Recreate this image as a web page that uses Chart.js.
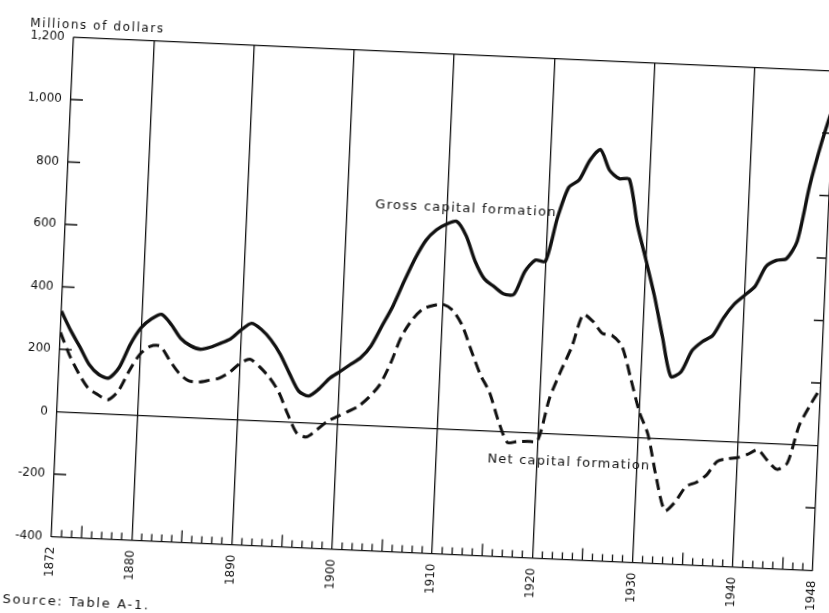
<!DOCTYPE html>
<html>
<head>
<meta charset="utf-8">
<script src="https://cdn.jsdelivr.net/npm/chart.js@4.4.1/dist/chart.umd.min.js"></script>
<style>
  html, body { margin: 0; padding: 0; background: #fff; overflow: hidden; width: 829px; height: 613px; }
  #capitalChart { position: absolute; left: -35px; top: -33px; transform: rotate(2.55deg); transform-origin: 50% 50%; }
</style>
</head>
<body>
<canvas id="capitalChart" width="900" height="680"></canvas>
<script>
// years 1872 - 1948
const years = [
  1872, 1873, 1874, 1875, 1876, 1877, 1878, 1879, 1880, 1881,
  1882, 1883, 1884, 1885, 1886, 1887, 1888, 1889, 1890, 1891,
  1892, 1893, 1894, 1895, 1896, 1897, 1898, 1899, 1900, 1901,
  1902, 1903, 1904, 1905, 1906, 1907, 1908, 1909, 1910, 1911,
  1912, 1913, 1914, 1915, 1916, 1917, 1918, 1919, 1920, 1921,
  1922, 1923, 1924, 1925, 1926, 1927, 1928, 1929, 1930, 1931,
  1932, 1933, 1934, 1935, 1936, 1937, 1938, 1939, 1940, 1941,
  1942, 1943, 1944, 1945, 1946, 1947, 1948
];

// millions of dollars
const grossCapital = [
  322, 262, 210, 155, 125, 115, 150, 225, 280, 310,
  326, 295, 252, 230, 220, 228, 242, 258, 288, 310,
  292, 260, 215, 155, 100, 86, 110, 145, 168, 192,
  215, 255, 320, 385, 465, 540, 600, 635, 655, 665,
  620, 540, 485, 462, 440, 440, 515, 553, 550, 690,
  790, 815, 880, 915, 850, 825, 825, 680, 570, 457,
  325, 200, 216, 285, 316, 337, 395, 440, 470, 500,
  565, 586, 593, 650, 830, 970, 1090
];

const netCapital = [
  254, 182, 125, 80, 60, 45, 74, 140, 195, 222,
  224, 180, 140, 117, 115, 122, 130, 150, 180, 195,
  172, 140, 95, 25, -35, -45, -20, 8, 25, 42,
  60, 90, 130, 200, 290, 345, 380, 393, 398, 380,
  333, 255, 180, 124, 35, -34, -30, -28, -25, 111,
  200, 280, 385, 365, 328, 322, 290, 190, 85, 10,
  -125, -230, -200, -150, -135, -110, -65, -55, -50, -38,
  -22, -55, -82, -60, 60, 127, 185
];

const yTicks = [-400, -200, 0, 200, 400, 600, 800, 1000, 1200];
const xLabelYears = [1872, 1880, 1890, 1900, 1910, 1920, 1930, 1940, 1948];

const ink = '#111';
const fontFamily = "'DejaVu Sans', sans-serif";

const decorPlugin = {
  id: 'decor',
  afterDraw(chart) {
    const ctx = chart.ctx;
    const xs = chart.scales.x, ys = chart.scales.y;
    const a = chart.chartArea;
    ctx.save();
    ctx.strokeStyle = ink;
    ctx.lineWidth = 1.3;

    // yearly ticks along the bottom, pointing up
    years.forEach(yr => {
      if (xLabelYears.includes(yr)) return;
      const x = xs.getPixelForValue(yr);
      const len = yr % 5 === 0 ? 12 : 7;
      ctx.beginPath();
      ctx.moveTo(x, a.bottom);
      ctx.lineTo(x, a.bottom - len);
      ctx.stroke();
    });

    // inward ticks on left and right axes
    yTicks.forEach(v => {
      if (v === -400 || v === 0 || v === 1200) return;
      const y = ys.getPixelForValue(v);
      ctx.beginPath();
      ctx.moveTo(a.left, y);
      ctx.lineTo(a.left + 12, y);
      ctx.moveTo(a.right, y);
      ctx.lineTo(a.right - 10, y);
      ctx.stroke();
    });

    ctx.fillStyle = ink;
    ctx.textBaseline = 'middle';
    ctx.textAlign = 'left';

    ctx.font = '13px ' + fontFamily;
    ctx.letterSpacing = '1.3px';
    ctx.fillText('Gross capital formation', xs.getPixelForValue(1902.8), ys.getPixelForValue(707));
    ctx.letterSpacing = '1.2px';
    ctx.fillText('Net capital formation', xs.getPixelForValue(1915.1), ys.getPixelForValue(-90));

    ctx.font = '12px ' + fontFamily;
    ctx.letterSpacing = '1.6px';
    ctx.fillText('Millions of dollars', a.left - 44, ys.getPixelForValue(1200) - 12);
    ctx.font = '13px ' + fontFamily;
    ctx.letterSpacing = '1.7px';
    ctx.fillText('Source: Table A-1.', a.left - 46, a.bottom + 65);
    ctx.restore();
  }
};

const tickFont = { family: fontFamily, size: 12 };

new Chart(document.getElementById('capitalChart'), {
  type: 'line',
  data: {
    datasets: [
      {
        label: 'Gross capital formation',
        data: years.map((yr, i) => ({ x: yr, y: grossCapital[i] })),
        borderColor: ink,
        borderWidth: 3.4,
        pointRadius: 0,
        tension: 0.25,
        fill: false
      },
      {
        label: 'Net capital formation',
        data: years.map((yr, i) => ({ x: yr, y: netCapital[i] })),
        borderColor: ink,
        borderWidth: 3,
        borderDash: [11, 6],
        pointRadius: 0,
        tension: 0.25,
        fill: false
      }
    ]
  },
  options: {
    responsive: false,
    animation: false,
    devicePixelRatio: 1,
    layout: { padding: { left: 0, top: 85.5, right: 41, bottom: 0 } },
    plugins: { legend: { display: false }, tooltip: { enabled: false } },
    scales: {
      x: {
        type: 'linear',
        min: 1872,
        max: 1948,
        afterBuildTicks: s => { s.ticks = xLabelYears.map(v => ({ value: v })); },
        afterFit: s => { s.height = 94.5; },
        border: { display: false },
        grid: { color: ink, lineWidth: 1.3, drawTicks: false },
        ticks: {
          autoSkip: false,
          minRotation: 90,
          maxRotation: 90,
          padding: 10,
          color: ink,
          font: tickFont,
          callback: v => String(v)
        }
      },
      y: {
        min: -400,
        max: 1200,
        afterBuildTicks: s => { s.ticks = yTicks.map(v => ({ value: v })); },
        afterFit: s => { s.width = 97; },
        border: { display: false },
        grid: {
          lineWidth: 1.3,
          drawTicks: false,
          color: c => [-400, 0, 1200].includes(c.tick && c.tick.value) ? ink : 'rgba(0,0,0,0)'
        },
        ticks: {
          padding: 9,
          color: ink,
          font: tickFont,
          callback: v => v.toLocaleString('en-US')
        }
      }
    }
  },
  plugins: [decorPlugin]
});
</script>
</body>
</html>
